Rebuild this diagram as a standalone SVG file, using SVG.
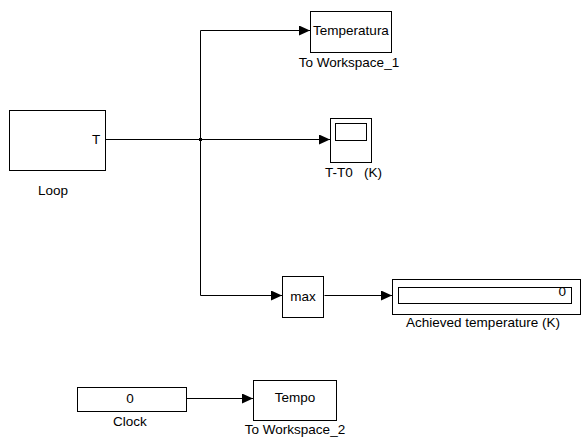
<svg xmlns="http://www.w3.org/2000/svg" width="582" height="437" viewBox="0 0 582 437">
<style>
.blk{fill:#fff;stroke:#000;stroke-width:1}
.ln{fill:none;stroke:#000;stroke-width:1}
text{font-family:"Liberation Sans",Arial,sans-serif;font-size:13.5px;fill:#000}
.c{text-anchor:middle}
</style>
<defs>
<marker id="arr" markerWidth="11" markerHeight="10" refX="11" refY="5" orient="auto" markerUnits="userSpaceOnUse">
<path d="M0,0 L11,5 L0,10 Z" fill="#000"/>
</marker>
</defs>
<rect width="582" height="437" fill="#fff"/>
<g id="connectors">
<path class="ln" d="M105.5,139.5 H200.5"/>
<path class="ln" d="M200.5,139.5 V30.5 H310" marker-end="url(#arr)"/>
<path class="ln" d="M200.5,139.5 H330" marker-end="url(#arr)"/>
<path class="ln" d="M200.5,139.5 V295.5 H282" marker-end="url(#arr)"/>
<path class="ln" d="M324.5,295.5 H392" marker-end="url(#arr)"/>
<path class="ln" d="M186.5,398.5 H253" marker-end="url(#arr)"/>
<rect x="199" y="138" width="3" height="3" fill="#000"/>
</g>
<g id="loop">
<rect class="blk" x="9.5" y="110.5" width="96" height="60"/>
<text x="96" y="143.5" class="c">T</text>
<text x="53" y="195" class="c">Loop</text>
</g>
<g id="toworkspace1">
<rect class="blk" x="310.5" y="11.5" width="81" height="41"/>
<text x="351" y="35" class="c">Temperatura</text>
<text x="349" y="67" class="c">To Workspace_1</text>
</g>
<g id="scope">
<rect class="blk" x="330.5" y="118.5" width="41" height="44"/>
<rect class="blk" x="335.5" y="123.5" width="31" height="17"/>
<text x="325" y="177" xml:space="preserve">T-T0   (K)</text>
</g>
<g id="max">
<rect class="blk" x="282.5" y="276.5" width="41" height="41"/>
<text x="303" y="300.5" class="c">max</text>
</g>
<g id="display">
<rect class="blk" x="392.5" y="279.5" width="188" height="35"/>
<rect class="blk" x="398.5" y="287.5" width="173" height="16"/>
<text x="566" y="296" text-anchor="end">0</text>
<text x="483" y="327" class="c">Achieved temperature (K)</text>
</g>
<g id="clock">
<rect class="blk" x="77.5" y="387.5" width="109" height="24"/>
<text x="130" y="403" class="c">0</text>
<text x="130" y="426" class="c">Clock</text>
</g>
<g id="toworkspace2">
<rect class="blk" x="253.5" y="380.5" width="83" height="40"/>
<text x="295" y="402" class="c">Tempo</text>
<text x="295" y="434" class="c">To Workspace_2</text>
</g>
</svg>
